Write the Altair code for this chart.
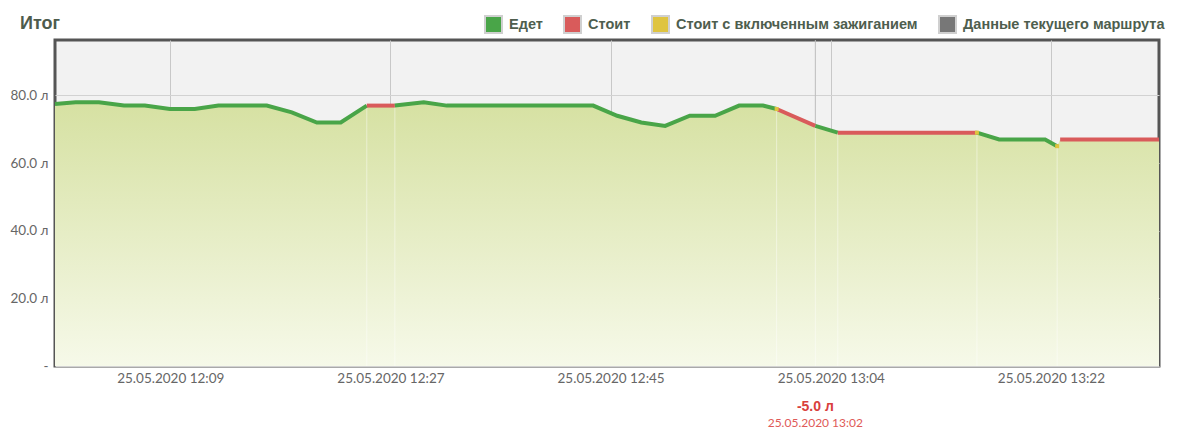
import altair as alt
import pandas as pd

DAY = "2020-05-25"

# fuel level readings (time, litres)
times = ["11:59:37", "12:01:20", "12:03:16", "12:05:21", "12:07:05", "12:09:10",
         "12:11:14", "12:13:12", "12:17:13", "12:19:18", "12:21:23", "12:23:22",
         "12:25:32", "12:27:52", "12:30:16", "12:32:11", "12:44:21", "12:46:21",
         "12:48:21", "12:50:20", "12:52:23", "12:54:29", "12:56:29", "12:58:28",
         "12:59:36", "13:02:49", "13:04:41", "13:16:15", "13:18:06", "13:21:55",
         "13:22:55", "13:23:10", "13:31:23"]
fuel = [77.5, 78, 78, 77, 77, 76, 76, 77, 77, 75, 72, 72, 77, 77, 78, 77, 77, 74,
        72, 71, 74, 74, 77, 77, 76, 71, 69, 69, 67, 67, 65, 67, 67]

# segments: (first index, last index, state)
segments = [(0, 12, "Едет"), (12, 13, "Стоит"), (13, 24, "Едет"), (24, 25, "Стоит"),
            (25, 26, "Едет"), (26, 27, "Стоит"), (27, 30, "Едет"), (31, 32, "Стоит")]
ignition_idx = [24, 27, 30]          # "Стоит с включенным зажиганием" markers
boundary_idx = [12, 13, 24, 25, 26, 27, 30]

states = ["Едет", "Стоит", "Стоит с включенным зажиганием", "Данные текущего маршрута"]
state_colors = ["#49a548", "#d95b5b", "#dfc440", "#777777"]

# annotation (fuel drain)
annot_idx = 25
annot_value = [-5.0]

tick_times = ["12:09:12", "12:27:30", "12:45:48", "13:04:06", "13:22:24"]
x_domain = ["11:59:37", "13:31:23"]
y_ticks = [0, 20, 40, 60, 80]
y_max = 96.4


def iso(t):
    return f"{DAY}T{t}"


def dt(t):
    h, m, s = (int(v) for v in t.split(":"))
    return alt.DateTime(year=2020, month=5, date=25, hours=h, minutes=m, seconds=s)


pts = pd.DataFrame({"time": [iso(t) for t in times], "fuel": fuel})

rows = []
for sid, (a, b, st) in enumerate(segments):
    for i in range(a, b + 1):
        rows.append({"seg": sid, "state": st, "time": iso(times[i]), "fuel": fuel[i]})
seg_df = pd.DataFrame(rows)

ign_df = pts.iloc[ignition_idx].copy()
ign_df["state"] = states[2]
bnd_df = pts.iloc[boundary_idx]
ann_df = pd.DataFrame({"time": [iso(times[annot_idx])],
                       "label": [f"{v:.1f} л" for v in annot_value]})

W, H = 1104, 326
LABEL_FONT = "Lato"
BOLD_FONT = "Liberation Sans"

x_scale = alt.Scale(domain=[dt(t) for t in x_domain])
y_scale = alt.Scale(domain=[0, y_max], nice=False)

x_axis = alt.Axis(values=[dt(t) for t in tick_times], format="%d.%m.%Y %H:%M",
                  title=None, ticks=False, domain=False, grid=True,
                  gridColor="#c8c8c8", gridWidth=1, labelFont=LABEL_FONT,
                  labelFontSize=13.5, labelColor="#666666", labelPadding=5,
                  labelFlush=False)
y_axis = alt.Axis(values=y_ticks,
                  labelExpr="datum.value == 0 ? '-' : format(datum.value, '.1f') + ' л'",
                  title=None, ticks=False, domain=False, grid=True,
                  gridColor="#d2d2d2", gridWidth=1, labelFont=LABEL_FONT,
                  labelFontSize=13.5, labelColor="#666666", labelPadding=7)

X = alt.X("time:T", scale=x_scale, axis=x_axis)
Y = alt.Y("fuel:Q", scale=y_scale, axis=y_axis)

ann_rule = alt.Chart(ann_df).mark_rule(color="#bcbcbc", strokeWidth=1).encode(
    x=alt.X("time:T", scale=x_scale))

area = alt.Chart(pts).mark_area(
    color=alt.Gradient(gradient="linear",
                       stops=[alt.GradientStop(color="#d6e1a2", offset=0),
                              alt.GradientStop(color="#f6f9e9", offset=1)],
                       x1=1, x2=1, y1=0, y2=1)
).encode(x=X, y=Y)

bnd_rules = alt.Chart(bnd_df).mark_rule(color="#ffffff", opacity=0.45, strokeWidth=1).encode(
    x=alt.X("time:T", scale=x_scale), y=alt.Y("fuel:Q", scale=y_scale), y2=alt.datum(0))

# line colours: only the two states that the line uses (separate scale, no legend)
line = alt.Chart(seg_df).mark_line(strokeWidth=4).encode(
    x=alt.X("time:T", scale=x_scale),
    y=alt.Y("fuel:Q", scale=y_scale),
    detail="seg:N",
    stroke=alt.Stroke("state:N",
                      scale=alt.Scale(domain=states[:2], range=state_colors[:2]),
                      legend=None),
)

ign = alt.Chart(ign_df).mark_square(filled=True, size=16, opacity=1).encode(
    x=alt.X("time:T", scale=x_scale), y=alt.Y("fuel:Q", scale=y_scale),
    color=alt.Color("state:N", scale=alt.Scale(domain=states, range=state_colors),
                    legend=alt.Legend(
                        title=None, orient="none", legendX=429, legendY=-25,
                        direction="horizontal", columns=4, symbolType="square",
                        symbolSize=289, symbolStrokeWidth=2,
                        symbolStrokeColor="#d0d0d0",
                        labelFont=BOLD_FONT, labelFontSize=14.5,
                        labelFontWeight="bold", labelColor="#4e5e4e",
                        labelLimit=500, columnPadding=17, labelOffset=6)))

ann_val = alt.Chart(ann_df).mark_text(font=BOLD_FONT, fontSize=14, fontWeight="bold",
                                      color="#d9403c", baseline="middle").encode(
    x=alt.X("time:T", scale=x_scale), y=alt.value(H + 41), text="label:N")

ann_time = alt.Chart(ann_df).mark_text(font=LABEL_FONT, fontSize=12,
                                       color="#e05a58", baseline="middle").encode(
    x=alt.X("time:T", scale=x_scale), y=alt.value(H + 57),
    text=alt.Text("time:T", format="%d.%m.%Y %H:%M"))

chart = alt.layer(ann_rule, area, bnd_rules, line, ign, ann_val, ann_time).properties(
    width=W, height=H,
    background="#ffffff",
    padding={"left": 47, "top": 32, "right": 31, "bottom": 64},
    autosize=alt.AutoSizeParams(type="none"),
    title=alt.TitleParams("Итог", anchor="start", frame="group", dx=-35,
                          fontSize=18, fontWeight="bold", font=BOLD_FONT,
                          color="#4d5b4d", baseline="alphabetic", offset=-32),
).configure_view(
    fill="#f2f2f2", stroke="#555555", strokeWidth=3
)

chart.save("out.html", embed_options={"renderer": "svg", "actions": False})
